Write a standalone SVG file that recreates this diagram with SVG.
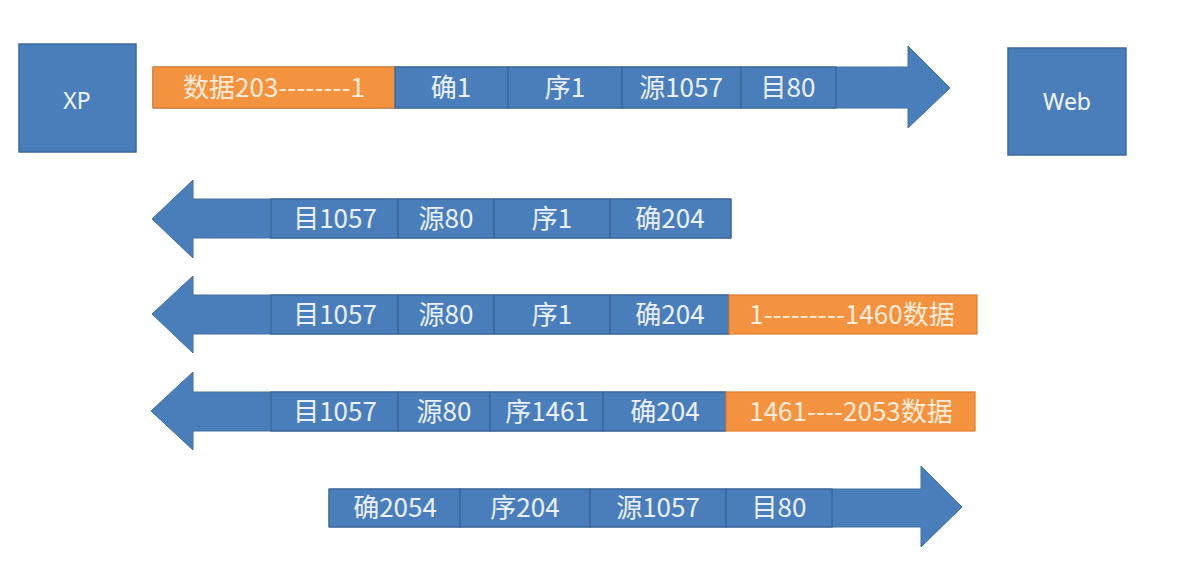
<svg xmlns="http://www.w3.org/2000/svg" width="1177" height="582" viewBox="0 0 1177 582">
<style>
.box{fill:#4A7EBB;stroke:#3D6A9E;stroke-width:1.5}
.arr{fill:#4A7EBB;stroke:#41719C;stroke-width:1}
.cell{fill:#4A7EBB;stroke:#3A6595;stroke-width:1.2}
.ocell{fill:#F4933F;stroke:#E07A2A;stroke-width:1.2}
.t{font-family:"Noto Sans CJK SC","Liberation Sans",sans-serif;font-size:26px;fill:#EAF1FA;text-anchor:middle}
.ot{font-family:"Noto Sans CJK SC","Liberation Sans",sans-serif;font-size:26px;fill:#FDEBDA;text-anchor:middle}
.nt{font-family:"Noto Sans","Liberation Sans",sans-serif;font-size:23px;fill:#F2F6FB;text-anchor:middle}
</style>
<rect width="1177" height="582" fill="#FFFFFF"/>
<g id="XP">
<rect class="box" x="19" y="44" width="117" height="108"/>
<text class="nt" x="77" y="109">XP</text>
</g>
<g id="Web">
<rect class="box" x="1008" y="48" width="118" height="107"/>
<text class="nt" x="1067" y="110">Web</text>
</g>
<g id="connectors">
<g id="seg1">
<polygon class="arr" points="153,67 908,67 908,46 950,88 908,128 908,108 153,108"/>
<rect class="ocell" x="153" y="67" width="242" height="41"/>
<rect class="cell" x="395" y="67" width="113" height="41"/>
<rect class="cell" x="508" y="67" width="114" height="41"/>
<rect class="cell" x="622" y="67" width="119" height="41"/>
<rect class="cell" x="741" y="67" width="95" height="41"/>
<text class="ot" x="274" y="97">数据203--------1</text>
<text class="t" x="451" y="97">确1</text>
<text class="t" x="565" y="97">序1</text>
<text class="t" x="681" y="97">源1057</text>
<text class="t" x="788" y="97">目80</text>
</g>
<g id="seg2">
<polygon class="arr" points="731,199 193,199 193,180 152,219 193,258 193,238 731,238"/>
<rect class="cell" x="271" y="199" width="127" height="39"/>
<rect class="cell" x="398" y="199" width="96" height="39"/>
<rect class="cell" x="494" y="199" width="116" height="39"/>
<rect class="cell" x="610" y="199" width="121" height="39"/>
<text class="t" x="335" y="228">目1057</text>
<text class="t" x="446" y="228">源80</text>
<text class="t" x="552" y="228">序1</text>
<text class="t" x="670" y="228">确204</text>
</g>
<g id="seg3">
<polygon class="arr" points="729,295 193,295 193,276 152,314 193,353 193,334 729,334"/>
<rect class="cell" x="271" y="295" width="127" height="39"/>
<rect class="cell" x="398" y="295" width="96" height="39"/>
<rect class="cell" x="494" y="295" width="116" height="39"/>
<rect class="cell" x="610" y="295" width="119" height="39"/>
<rect class="ocell" x="729" y="295" width="248" height="39"/>
<text class="t" x="335" y="324">目1057</text>
<text class="t" x="446" y="324">源80</text>
<text class="t" x="552" y="324">序1</text>
<text class="t" x="670" y="324">确204</text>
<text class="ot" x="852" y="324">1---------1460数据</text>
</g>
<g id="seg4">
<polygon class="arr" points="726,392 193,392 193,372 151,411 193,450 193,431 726,431"/>
<rect class="cell" x="271" y="392" width="127" height="39"/>
<rect class="cell" x="398" y="392" width="92" height="39"/>
<rect class="cell" x="490" y="392" width="113" height="39"/>
<rect class="cell" x="603" y="392" width="123" height="39"/>
<rect class="ocell" x="726" y="392" width="249" height="39"/>
<text class="t" x="335" y="421">目1057</text>
<text class="t" x="444" y="421">源80</text>
<text class="t" x="547" y="421">序1461</text>
<text class="t" x="665" y="421">确204</text>
<text class="ot" x="851" y="421">1461----2053数据</text>
</g>
<g id="seg5">
<polygon class="arr" points="329,489 921,489 921,466 962,507 921,547 921,527 329,527"/>
<rect class="cell" x="329" y="489" width="131" height="38"/>
<rect class="cell" x="460" y="489" width="130" height="38"/>
<rect class="cell" x="590" y="489" width="136" height="38"/>
<rect class="cell" x="726" y="489" width="106" height="38"/>
<text class="t" x="395" y="517">确2054</text>
<text class="t" x="525" y="517">序204</text>
<text class="t" x="658" y="517">源1057</text>
<text class="t" x="779" y="517">目80</text>
</g>
</g>
</svg>
